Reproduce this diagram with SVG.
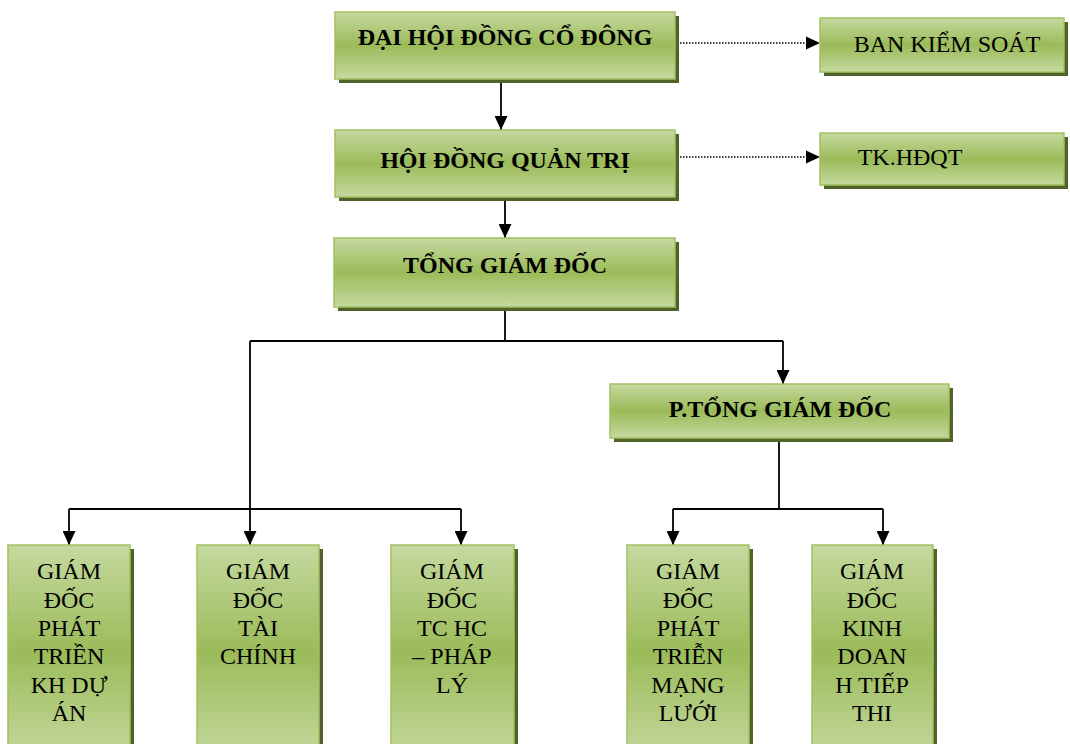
<svg xmlns="http://www.w3.org/2000/svg" width="1070" height="744" viewBox="0 0 1070 744">
<defs>
<linearGradient id="g" x1="0" y1="0" x2="0" y2="1">
<stop offset="0" stop-color="#c5d99f"/>
<stop offset="0.5" stop-color="#9bbb59"/>
<stop offset="1" stop-color="#c5d99f"/>
</linearGradient>
<marker id="ah" viewBox="0 0 14 13" refX="14" refY="6.5" markerWidth="14" markerHeight="13" markerUnits="userSpaceOnUse" orient="auto">
<path d="M0,0 L14,6.5 L0,13 Z" fill="#000"/>
</marker>
</defs>
<style>
.sh{fill:#4f6228}
.bx{fill:url(#g);stroke:#a3c062;stroke-width:1.5}
.in{fill:none;stroke:#d3e2b4;stroke-width:1}
.tb{font-family:"Liberation Serif","Times New Roman",serif;font-size:24px;font-weight:bold;fill:#000;text-anchor:middle}
.t{font-family:"Liberation Serif","Times New Roman",serif;font-size:24px;fill:#000;text-anchor:middle}
.ln{fill:none;stroke:#000;stroke-width:1.8}
.dt{fill:none;stroke:#000;stroke-width:1.5;stroke-dasharray:1.5 1.5}
</style>
<g id="connectors">
<path class="ln" d="M501,79 V130" marker-end="url(#ah)"/>
<path class="ln" d="M505,197 V238" marker-end="url(#ah)"/>
<path class="ln" d="M505,307 V341 M250,341 H783"/>
<path class="ln" d="M783,341 V384" marker-end="url(#ah)"/>
<path class="ln" d="M250,341 V545" marker-end="url(#ah)"/>
<path class="ln" d="M69,509 H461"/>
<path class="ln" d="M69,509 V545" marker-end="url(#ah)"/>
<path class="ln" d="M461,509 V545" marker-end="url(#ah)"/>
<path class="ln" d="M779,438 V509 M673,509 H883"/>
<path class="ln" d="M673,509 V545" marker-end="url(#ah)"/>
<path class="ln" d="M883,509 V545" marker-end="url(#ah)"/>
<path class="dt" d="M677,43 H806"/>
<path d="M806,36.5 L820,43 L806,49.5 Z" fill="#000"/>
<path class="dt" d="M677,157 H806"/>
<path d="M806,150.5 L820,157 L806,163.5 Z" fill="#000"/>
</g>
<g id="dhdcd">
<rect class="sh" x="339" y="16" width="340" height="67"/>
<rect class="bx" x="335" y="12" width="340" height="67"/>
<text class="tb" x="505" y="45">ĐẠI HỘI ĐỒNG CỔ ĐÔNG</text>
</g>
<g id="bks">
<rect class="sh" x="824" y="22" width="244" height="54"/>
<rect class="bx" x="820" y="18" width="244" height="54"/>
<text class="t" x="947" y="52">BAN KIỂM SOÁT</text>
</g>
<g id="hdqt">
<rect class="sh" x="339" y="134" width="340" height="67"/>
<rect class="bx" x="335" y="130" width="340" height="67"/>
<text class="tb" x="505" y="168">HỘI ĐỒNG QUẢN TRỊ</text>
</g>
<g id="tkhdqt">
<rect class="sh" x="824" y="137" width="244" height="52"/>
<rect class="bx" x="820" y="133" width="244" height="52"/>
<text class="t" x="910" y="165">TK.HĐQT</text>
</g>
<g id="tgd">
<rect class="sh" x="338" y="242" width="341" height="69"/>
<rect class="bx" x="334" y="238" width="341" height="69"/>
<text class="tb" x="505" y="273">TỔNG GIÁM ĐỐC</text>
</g>
<g id="ptgd">
<rect class="sh" x="614" y="388" width="339" height="54"/>
<rect class="bx" x="610" y="384" width="339" height="54"/>
<text class="tb" x="780" y="417">P.TỔNG GIÁM ĐỐC</text>
</g>
<g id="gd1">
<rect class="sh" x="12" y="549" width="122" height="215"/>
<rect class="bx" x="8" y="545" width="122" height="215"/>
<text class="t" x="69" y="579">GIÁM</text>
<text class="t" x="69" y="607.5">ĐỐC</text>
<text class="t" x="69" y="636">PHÁT</text>
<text class="t" x="69" y="664">TRIỀN</text>
<text class="t" x="69" y="692.5">KH DỰ</text>
<text class="t" x="69" y="721">ÁN</text>
</g>
<g id="gd2">
<rect class="sh" x="201" y="549" width="122" height="215"/>
<rect class="bx" x="197" y="545" width="122" height="215"/>
<text class="t" x="258" y="579">GIÁM</text>
<text class="t" x="258" y="607.5">ĐỐC</text>
<text class="t" x="258" y="636">TÀI</text>
<text class="t" x="258" y="664">CHÍNH</text>
</g>
<g id="gd3">
<rect class="sh" x="395" y="549" width="123" height="215"/>
<rect class="bx" x="391" y="545" width="123" height="215"/>
<text class="t" x="452" y="579">GIÁM</text>
<text class="t" x="452" y="607.5">ĐỐC</text>
<text class="t" x="452" y="636">TC HC</text>
<text class="t" x="452" y="664">– PHÁP</text>
<text class="t" x="452" y="692.5">LÝ</text>
</g>
<g id="gd4">
<rect class="sh" x="631" y="549" width="122" height="215"/>
<rect class="bx" x="627" y="545" width="122" height="215"/>
<text class="t" x="688" y="579">GIÁM</text>
<text class="t" x="688" y="607.5">ĐỐC</text>
<text class="t" x="688" y="636">PHÁT</text>
<text class="t" x="688" y="664">TRIỄN</text>
<text class="t" x="688" y="692.5">MẠNG</text>
<text class="t" x="688" y="721">LƯỚI</text>
</g>
<g id="gd5">
<rect class="sh" x="816" y="549" width="121" height="215"/>
<rect class="bx" x="812" y="545" width="121" height="215"/>
<text class="t" x="872" y="579">GIÁM</text>
<text class="t" x="872" y="607.5">ĐỐC</text>
<text class="t" x="872" y="636">KINH</text>
<text class="t" x="872" y="664">DOAN</text>
<text class="t" x="872" y="692.5">H TIẾP</text>
<text class="t" x="872" y="721">THI</text>
</g>
</svg>
